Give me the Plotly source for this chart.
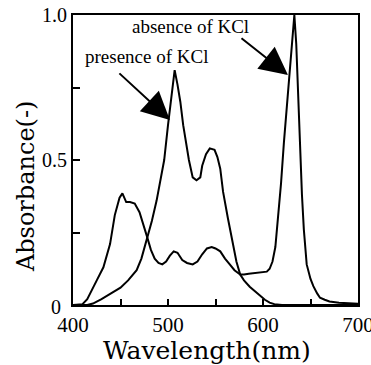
import plotly.graph_objects as go

# Absence of KCl
wl_absence = [400, 410, 415, 420, 425, 432, 439, 444, 449, 452, 456, 460, 465, 470, 474, 478, 482, 486, 490, 494, 498, 502, 506, 510, 515, 520, 526, 531, 536, 541, 546, 550, 555, 560, 565, 570, 576, 580, 585, 590, 595, 600, 604, 607, 610, 613, 616, 619, 622, 625, 628, 631, 633, 635, 637, 639, 641, 643, 646, 650, 653, 657, 660, 665, 670, 680, 690, 700]
abs_absence = [0.0, 0.003, 0.02, 0.05, 0.085, 0.13, 0.21, 0.31, 0.37, 0.385, 0.355, 0.355, 0.35, 0.32, 0.28, 0.235, 0.19, 0.16, 0.145, 0.14, 0.15, 0.17, 0.185, 0.18, 0.155, 0.145, 0.14, 0.15, 0.175, 0.195, 0.2, 0.195, 0.185, 0.16, 0.14, 0.12, 0.105, 0.105, 0.108, 0.11, 0.11, 0.112, 0.115, 0.125, 0.15, 0.2, 0.3, 0.42, 0.56, 0.68, 0.8, 0.92, 1.0, 0.9, 0.72, 0.55, 0.38, 0.26, 0.14, 0.09, 0.065, 0.04, 0.025, 0.018, 0.012, 0.008, 0.006, 0.004]

# Presence of KCl
wl_presence = [400, 415, 421, 430, 440, 450, 458, 467, 472, 478, 483, 488, 492, 496, 500, 503, 505, 507, 510, 513, 516, 519, 522, 526, 530, 534, 536, 540, 544, 549, 552, 555, 558, 563, 568, 572, 576, 580, 586, 592, 597, 602, 607, 612, 620, 640, 660, 680, 700]
abs_presence = [0.0, 0.0, 0.005, 0.02, 0.04, 0.06, 0.085, 0.12, 0.16, 0.23, 0.29, 0.36, 0.43, 0.5, 0.62, 0.7, 0.76, 0.81, 0.76, 0.7, 0.62, 0.56, 0.5, 0.44, 0.43, 0.44, 0.48, 0.52, 0.54, 0.535, 0.51, 0.47, 0.39, 0.3, 0.21, 0.15, 0.105, 0.085, 0.063, 0.045, 0.03, 0.018, 0.008, 0.003, 0.0, 0.0, 0.0, 0.0, 0.0]

x_tickvals = [400, 450, 500, 550, 600, 650, 700]
x_ticktext = ["400", "", "500", "", "600", "", "700"]
y_tickvals = [0, 0.25, 0.5, 0.75, 1.0]
y_ticktext = ["", "", "0.5", "", "1.0"]

serif = "Liberation Serif, Times New Roman, serif"
title_font = "DejaVu Serif, serif"

fig = go.Figure()
fig.add_trace(go.Scatter(x=wl_absence, y=abs_absence, mode="lines",
                         line=dict(color="black", width=2), hoverinfo="skip"))
fig.add_trace(go.Scatter(x=wl_presence, y=abs_presence, mode="lines",
                         line=dict(color="black", width=2), hoverinfo="skip"))

fig.update_layout(
    width=371, height=365,
    margin=dict(l=73, r=13, t=15, b=60, autoexpand=False),
    paper_bgcolor="white", plot_bgcolor="white",
    showlegend=False,
    xaxis=dict(range=[400, 700], tickvals=x_tickvals, ticktext=x_ticktext,
               ticks="inside", ticklen=6, tickwidth=1.5, tickcolor="black",
               showline=True, linecolor="black", linewidth=2, mirror=True,
               showgrid=False, zeroline=False, ticklabeloverflow="allow",
               automargin=False,
               tickfont=dict(family=serif, size=21, color="black")),
    yaxis=dict(range=[0, 1.0], tickvals=y_tickvals, ticktext=y_ticktext,
               ticks="inside", ticklen=7, tickwidth=1.5, tickcolor="black",
               showline=True, linecolor="black", linewidth=2, mirror=True,
               showgrid=False, zeroline=False, automargin=False,
               tickfont=dict(family=serif, size=20, color="black")),
    annotations=[
        dict(text="0", xref="paper", yref="y", x=0, y=0, xshift=-10, yshift=-2,
             showarrow=False, xanchor="right", yanchor="middle",
             font=dict(family=serif, size=20, color="black")),
        dict(text="Wavelength(nm)", xref="paper", yref="paper", x=0.47, y=0,
             yshift=-45, showarrow=False, xanchor="center", yanchor="middle",
             font=dict(family=title_font, size=25, color="black")),
        dict(text="Absorbance(-)", xref="paper", yref="paper", x=0, y=0.41,
             xshift=-47, showarrow=False, textangle=-90, xanchor="center",
             yanchor="middle",
             font=dict(family=title_font, size=24, color="black")),
        dict(text="absence of KCl", xref="paper", yref="paper",
             x=(190 - 73) / 285, y=(305 - 32) / 290, yshift=6, showarrow=False,
             xanchor="center", yanchor="middle",
             font=dict(family=serif, size=19, color="black")),
        dict(text="presence of KCl", xref="paper", yref="paper",
             x=(146 - 73) / 285, y=(305 - 62) / 290, yshift=6, showarrow=False,
             xanchor="center", yanchor="middle",
             font=dict(family=serif, size=19, color="black")),
        dict(x=626.3, y=0.793, xref="x", yref="y", ax=-48, ay=-38, text="",
             showarrow=True, arrowhead=2, arrowsize=2.8, arrowwidth=2,
             arrowcolor="black"),
        dict(x=502, y=0.638, xref="x", yref="y", ax=-52, ay=-48, text="",
             showarrow=True, arrowhead=2, arrowsize=2.8, arrowwidth=2,
             arrowcolor="black"),
    ],
)

fig.write_html("out.html")
